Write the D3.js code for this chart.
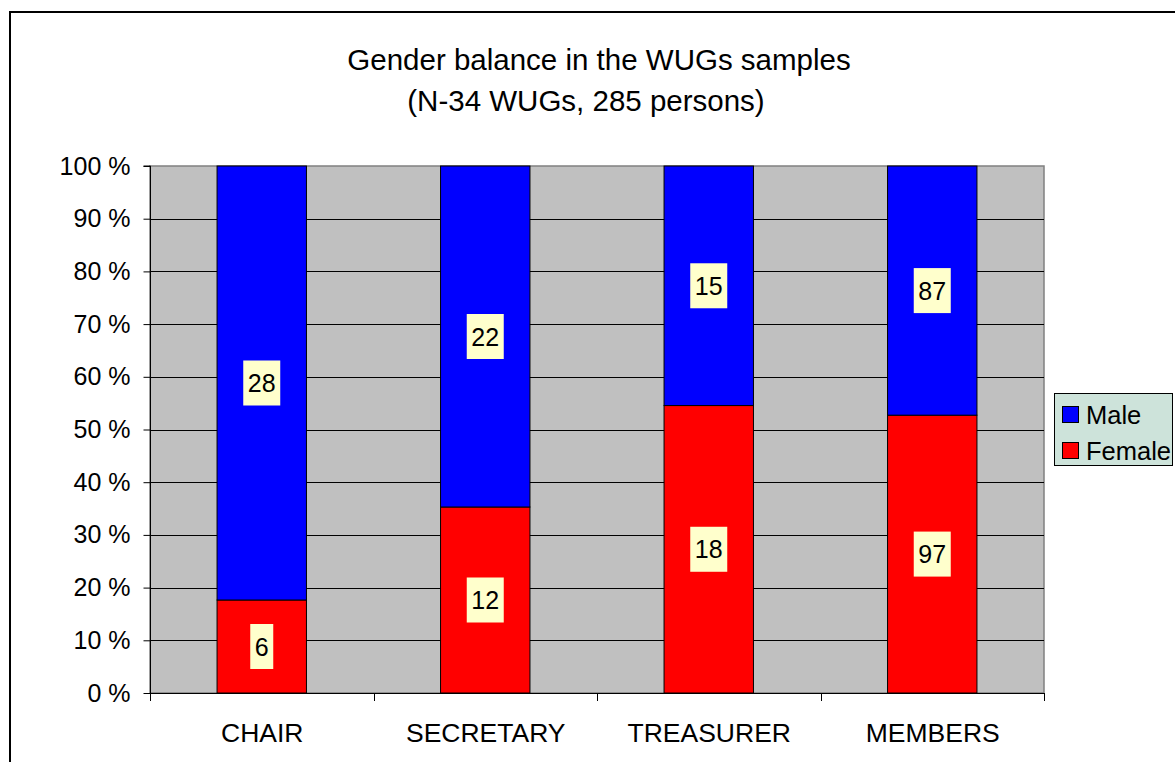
<!DOCTYPE html>
<html>
<head>
<meta charset="utf-8">
<script src="https://cdn.jsdelivr.net/npm/d3@7"></script>
<style>
  html, body { margin: 0; padding: 0; background: #fff; }
  svg { display: block; font-family: "Liberation Sans", Arial, sans-serif; }
</style>
</head>
<body>
<svg id="chart" width="1175" height="762"></svg>
<script>
// Gender counts per role in the WUG samples
const categories = ["CHAIR", "SECRETARY", "TREASURER", "MEMBERS"];
const femaleCounts = [6, 12, 18, 97];
const maleCounts = [28, 22, 15, 87];
const seriesNames = ["Male", "Female"];
const yTicks = [0, 0.1, 0.2, 0.3, 0.4, 0.5, 0.6, 0.7, 0.8, 0.9, 1.0];
const titleLines = ["Gender balance in the WUGs samples", "(N-34 WUGs, 285 persons)"];

const colors = { Male: "#0000ff", Female: "#ff0000" };
const svg = d3.select("#chart");
const tickFont = 25;
const catFont = 26.5;
const labelFont = 25;
const legendFont = 25.5;
const titleFont = 29.5;

// outer chart frame (runs past the page edges)
svg.append("rect")
  .attr("x", 10).attr("y", 12).attr("width", 1300).attr("height", 900)
  .attr("fill", "#fff").attr("stroke", "#000").attr("stroke-width", 2);

const plot = { left: 150, right: 1044, top: 166, bottom: 693 };

const x = d3.scaleBand().domain(categories).range([plot.left, plot.right]).padding(0);
const y = d3.scaleLinear().domain([0, 1]).range([plot.bottom, plot.top]);
const barFrac = 0.4;

// plot background
svg.append("rect")
  .attr("x", plot.left).attr("y", plot.top)
  .attr("width", plot.right - plot.left).attr("height", plot.bottom - plot.top)
  .attr("fill", "#c0c0c0").attr("stroke", "#808080").attr("stroke-width", 1.5);

// horizontal gridlines
svg.append("g").selectAll("line").data(yTicks.filter(t => t > 0 && t < 1)).join("line")
  .attr("x1", plot.left).attr("x2", plot.right)
  .attr("y1", d => Math.round(y(d)) + 0.5).attr("y2", d => Math.round(y(d)) + 0.5)
  .attr("stroke", "#000").attr("stroke-width", 1);

// stacked shares
const rows = categories.map((c, i) => {
  const total = femaleCounts[i] + maleCounts[i];
  return { cat: c, female: femaleCounts[i], male: maleCounts[i],
           fShare: femaleCounts[i] / total, mShare: maleCounts[i] / total };
});

const bars = svg.append("g");
rows.forEach(r => {
  const bx = x(r.cat) + x.bandwidth() * (1 - barFrac) / 2;
  const bw = x.bandwidth() * barFrac;
  const segs = [
    { name: "Female", y0: 0, y1: r.fShare, v: r.female },
    { name: "Male", y0: r.fShare, y1: 1, v: r.male }
  ];
  segs.forEach(s => {
    bars.append("rect")
      .attr("x", bx).attr("y", y(s.y1))
      .attr("width", bw).attr("height", y(s.y0) - y(s.y1))
      .attr("fill", colors[s.name]).attr("stroke", "#000").attr("stroke-width", 1);
  });
  segs.forEach(s => {
    const cx = bx + bw / 2;
    const cy = y((s.y0 + s.y1) / 2);
    const label = String(s.v);
    const boxW = label.length * 14 + 9;
    const boxH = 45;
    bars.append("rect")
      .attr("x", cx - boxW / 2).attr("y", cy - boxH / 2)
      .attr("width", boxW).attr("height", boxH)
      .attr("fill", "#ffffcc");
    bars.append("text")
      .attr("x", cx).attr("y", cy).attr("dy", "0.36em")
      .attr("text-anchor", "middle").attr("font-size", labelFont).attr("fill", "#000")
      .text(label);
  });
});

// y axis
const yAxis = d3.axisLeft(y).tickValues(yTicks).tickSize(7).tickPadding(13)
  .tickFormat(d => Math.round(d * 100) + " %");
const gy = svg.append("g").attr("transform", `translate(${plot.left + 0.5},0)`).call(yAxis);
gy.select(".domain").attr("stroke", "#000").attr("d", `M-7,${plot.top}H0V${plot.bottom}`);
gy.selectAll(".tick line").attr("stroke", "#000");
gy.selectAll("text").attr("font-size", tickFont).attr("font-family", "Liberation Sans, Arial, sans-serif").attr("fill", "#000");

// x axis baseline and boundary ticks
svg.append("line")
  .attr("x1", plot.left).attr("x2", plot.right)
  .attr("y1", plot.bottom + 0.5).attr("y2", plot.bottom + 0.5)
  .attr("stroke", "#000");
const bounds = categories.map(c => x(c)).concat([plot.right]);
svg.append("g").selectAll("line").data(bounds).join("line")
  .attr("x1", d => Math.round(d) + 0.5).attr("x2", d => Math.round(d) + 0.5)
  .attr("y1", plot.bottom).attr("y2", plot.bottom + 8)
  .attr("stroke", "#000");

svg.append("g").selectAll("text").data(categories).join("text")
  .attr("x", d => x(d) + x.bandwidth() / 2 + 0.5)
  .attr("y", 742)
  .attr("text-anchor", "middle").attr("font-size", catFont).attr("fill", "#000")
  .text(d => d);

// title
const titleX = [599, 586];
svg.append("g").selectAll("text").data(titleLines).join("text")
  .attr("x", (d, i) => titleX[i]).attr("y", (d, i) => 70 + i * 41)
  .attr("text-anchor", "middle").attr("font-size", titleFont).attr("fill", "#000")
  .text(d => d);

// legend
const lg = svg.append("g");
lg.append("rect").attr("x", 1054.5).attr("y", 393.5).attr("width", 118).attr("height", 72)
  .attr("fill", "#cde3da").attr("stroke", "#000").attr("stroke-width", 1);
seriesNames.forEach((name, i) => {
  const cy = 415 + i * 36;
  lg.append("rect").attr("x", 1062.5).attr("y", cy - 8.5).attr("width", 16).attr("height", 16)
    .attr("fill", colors[name]).attr("stroke", "#000").attr("stroke-width", 1);
  lg.append("text").attr("x", 1086).attr("y", cy).attr("dy", "0.36em")
    .attr("font-size", legendFont).attr("fill", "#000").text(name);
});
</script>
</body>
</html>
